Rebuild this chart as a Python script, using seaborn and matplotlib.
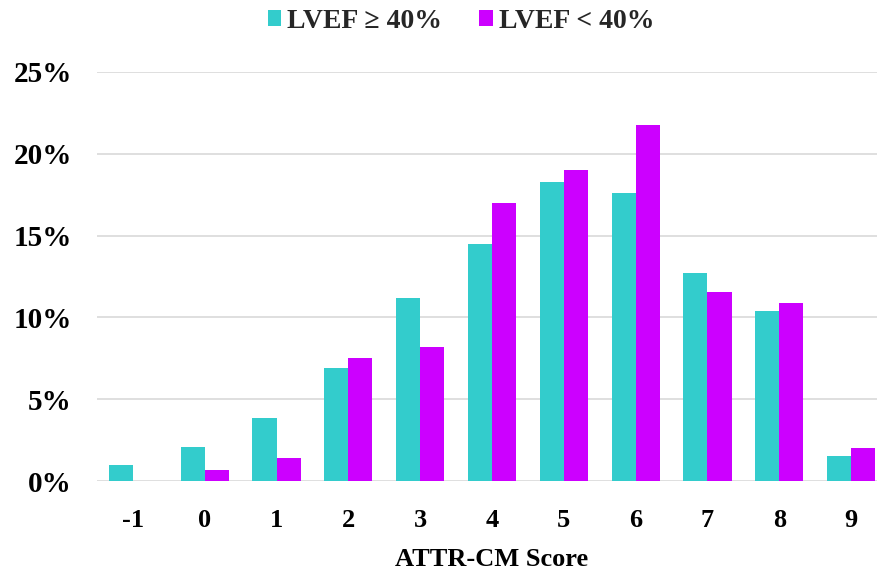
import matplotlib
matplotlib.use("Agg")
import matplotlib.pyplot as plt
import seaborn as sns
import pandas as pd
from matplotlib.patches import Patch
from matplotlib.ticker import FuncFormatter

scores = ["-1", "0", "1", "2", "3", "4", "5", "6", "7", "8", "9"]
lvef_ge40 = [1.0, 2.1, 3.85, 6.9, 11.2, 14.5, 18.3, 17.6, 12.7, 10.4, 1.55]
lvef_lt40 = [0.0, 0.7, 1.4, 7.5, 8.2, 17.0, 19.0, 21.75, 11.55, 10.85, 2.0]
series_names = ["LVEF \u2265 40%", "LVEF < 40%"]
colors = ["#33CCCC", "#CC00FF"]

df = pd.DataFrame({
    "score": scores * 2,
    "value": lvef_ge40 + lvef_lt40,
    "group": [series_names[0]] * len(scores) + [series_names[1]] * len(scores),
})

sns.set_theme(style="white")
plt.rcParams["font.family"] = ["Liberation Serif", "DejaVu Serif"]
plt.rcParams["font.weight"] = "bold"

fig = plt.figure(figsize=(8.78, 5.70), dpi=100)
ax = fig.add_axes([97 / 878, (570 - 481) / 570, 790 / 878, 409 / 570])

sns.barplot(data=df, x="score", y="value", hue="group", order=scores,
            hue_order=series_names, palette=colors, width=0.67,
            saturation=1, linewidth=0, ax=ax, legend=False)

ax.set_ylim(0, 25)
ax.set_xlim(-0.5, 10.5)
ax.set_yticks([0, 5, 10, 15, 20, 25])
ax.yaxis.set_major_formatter(FuncFormatter(lambda v, p: f"{int(v)}%"))
ax.yaxis.grid(True, color="#d9d9d9", linewidth=1.2)
ax.set_axisbelow(True)
for s in ax.spines.values():
    s.set_visible(False)
ax.tick_params(axis="y", length=0, pad=18, labelsize=21)
ax.tick_params(axis="x", length=0, pad=20, labelsize=19)
for lab in ax.get_xticklabels() + ax.get_yticklabels():
    lab.set_fontweight("bold")
    lab.set_color("black")
ax.set_ylabel("")
ax.set_xlabel("ATTR-CM Score", fontsize=19, fontweight="bold", color="black", labelpad=12)

handles = [Patch(facecolor=c, edgecolor="none") for c in colors]
fig.legend(handles, series_names, loc="center", bbox_to_anchor=(461 / 878, 1 - 21 / 570),
           ncol=2, frameon=False, handlelength=0.5, handleheight=0.5,
           handletextpad=0.2, columnspacing=1.35, prop={"weight": "bold", "size": 20})

fig.savefig("out.png", dpi=100)
